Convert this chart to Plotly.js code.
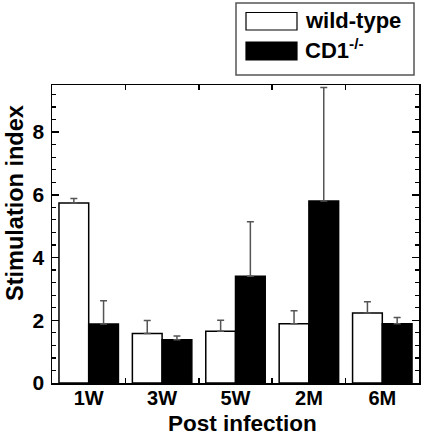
<!DOCTYPE html>
<html>
<head>
<meta charset="utf-8">
<script src="https://cdn.plot.ly/plotly-3.0.1.min.js"></script>
<style>html,body{margin:0;padding:0;background:#fff;}#chart{width:423px;height:437px;}</style>
</head>
<body>
<div id="chart"></div>
<script>
// ---- data ----
const categories = ["1W", "3W", "5W", "2M", "6M"];
const wildType = [5.74, 1.58, 1.65, 1.89, 2.23];
const wildTypeErr = [0.14, 0.41, 0.35, 0.41, 0.36];
const cd1 = [1.88, 1.38, 3.40, 5.80, 1.89];
const cd1Err = [0.74, 0.12, 1.74, 3.62, 0.20];
const seriesNames = ["wild-type", "CD1<sup>-/-</sup>"];
const yTickVals = [0, 2, 4, 6, 8];

const W = 423, H = 437;
const M = {l: 52, r: 4, t: 85, b: 54};
const pw = W - M.l - M.r, ph = H - M.t - M.b;
const px = x => (x - M.l) / pw;
const py = y => (H - M.b - y) / ph;
const FONT = "Liberation Sans, Arial, sans-serif";

const zeros = categories.map(() => 0);
const errStyle = {color: "#555", thickness: 1.5, width: 3.5};

const traces = [
  {type: "bar", x: categories, y: wildType, name: seriesNames[0],
   marker: {color: "#ffffff", line: {color: "#000", width: 1.5}},
   error_y: Object.assign({type: "data", symmetric: false, array: wildTypeErr, arrayminus: zeros, visible: true}, errStyle)},
  {type: "bar", x: categories, y: cd1, name: seriesNames[1],
   marker: {color: "#000000", line: {color: "#000", width: 1.5}},
   error_y: Object.assign({type: "data", symmetric: false, array: cd1Err, arrayminus: zeros, visible: true}, errStyle)}
];

const legendShapes = [
  {type: "rect", xref: "paper", yref: "paper", x0: px(236), x1: px(414), y0: py(75), y1: py(3),
   line: {color: "#555", width: 1.5}, fillcolor: "rgba(0,0,0,0)"},
  {type: "rect", xref: "paper", yref: "paper", x0: px(246), x1: px(297), y0: py(30), y1: py(12.5),
   line: {color: "#000", width: 1.2}, fillcolor: "#fff"},
  {type: "rect", xref: "paper", yref: "paper", x0: px(246), x1: px(297), y0: py(60), y1: py(42),
   line: {color: "#000", width: 1.2}, fillcolor: "#000"}
];

const annFont = {family: FONT, size: 22, color: "#000", weight: "bold"};
const annotations = [
  {xref: "paper", yref: "paper", x: px(303), y: py(20), xanchor: "left", yanchor: "middle",
   text: seriesNames[0], showarrow: false, font: annFont},
  {xref: "paper", yref: "paper", x: px(303), y: py(49), xanchor: "left", yanchor: "middle",
   text: seriesNames[1], showarrow: false, font: annFont},
  {xref: "paper", yref: "paper", x: px(242.5), y: py(423), xanchor: "center", yanchor: "middle",
   text: "Post infection", showarrow: false, font: {family: FONT, size: 22.5, color: "#000", weight: "bold"}},
  {xref: "paper", yref: "paper", x: px(15), y: py(203), xanchor: "center", yanchor: "middle",
   text: "Stimulation index", textangle: -90, showarrow: false, font: {family: FONT, size: 23.5, color: "#000", weight: "bold"}}
];

const layout = {
  width: W, height: H,
  margin: M,
  paper_bgcolor: "#fff", plot_bgcolor: "#fff",
  showlegend: false,
  barmode: "group", bargap: 0.19, bargroupgap: 0,
  font: {family: FONT, color: "#000"},
  xaxis: {
    type: "category", range: [-0.5, 4.5], tickson: "boundaries",
    ticks: "inside", ticklen: 5, tickwidth: 1.5, tickcolor: "#000",
    showline: true, linecolor: "#000", linewidth: 1.5, mirror: "ticks",
    showgrid: false, zeroline: false, fixedrange: true,
    tickfont: {family: FONT, size: 20, color: "#000", weight: "bold"},
    ticklabelstandoff: -4
  },
  yaxis: {
    range: [0, 9.5], tickvals: yTickVals, ticks: "inside", ticklen: 7, tickwidth: 1.5, tickcolor: "#000",
    minor: {dtick: 0.4, ticks: "inside", ticklen: 4, tickwidth: 1.2, tickcolor: "#000"},
    showline: true, linecolor: "#000", linewidth: 1.5, mirror: "ticks",
    showgrid: false, zeroline: false, fixedrange: true,
    tickfont: {family: FONT, size: 21, color: "#000", weight: "bold"},
    ticklabelstandoff: 2
  },
  shapes: legendShapes,
  annotations: annotations
};

Plotly.newPlot("chart", traces, layout, {displayModeBar: false, staticPlot: true});
</script>
</body>
</html>
